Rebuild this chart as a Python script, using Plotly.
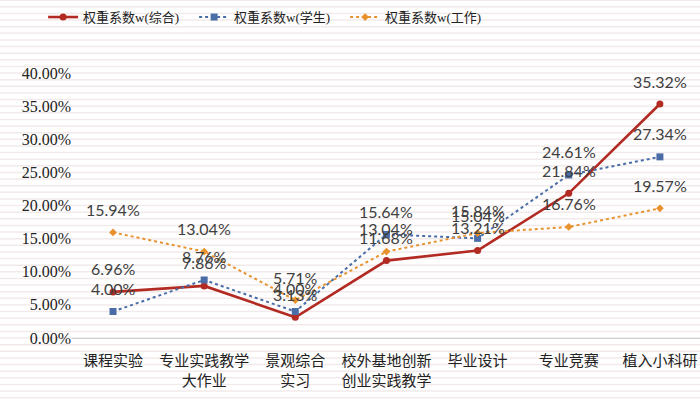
import plotly.graph_objects as go

categories = ["课程实验", "专业实践教学<br>大作业", "景观综合<br>实习", "校外基地创新<br>创业实践教学",
              "毕业设计", "专业竞赛", "植入小科研"]
series_names = ["权重系数w(综合)", "权重系数w(学生)", "权重系数w(工作)"]
w_zonghe = [6.96, 7.86, 3.13, 11.68, 13.21, 21.84, 35.32]
w_xuesheng = [4.00, 8.76, 4.00, 15.64, 15.04, 24.61, 27.34]
w_gongzuo = [15.94, 13.04, 5.71, 13.04, 15.84, 16.76, 19.57]
y_ticks = [0, 5, 10, 15, 20, 25, 30, 35, 40]
y_tick_labels = ["0.00%", "5.00%", "10.00%", "15.00%", "20.00%", "25.00%", "30.00%", "35.00%", "40.00%"]

colors = ["#B22A22", "#4A6DA7", "#E8922E"]
dashes = ["solid", "dot", "dot"]
widths = [2.6, 2, 2]
symbols = ["circle", "square", "diamond"]
msizes = [7, 7, 6]
values = [w_zonghe, w_xuesheng, w_gongzuo]

serif = "Liberation Serif, Times New Roman, serif"
cjk = "Liberation Serif, Noto Sans CJK SC, serif"
fig = go.Figure()
xs = list(range(len(categories)))
for name, vals, c, d, w, s, ms in zip(series_names, values, colors, dashes, widths, symbols, msizes):
    fig.add_trace(go.Scatter(x=xs, y=vals, mode="lines+markers", name=name,
                             line=dict(color=c, width=w, dash=d),
                             marker=dict(symbol=s, size=ms, color=c)))

annotations = []
for vals in values:
    for x, v in zip(xs, vals):
        annotations.append(dict(x=x, y=v, xref="x", yref="y", text=f"{v:.2f}%", showarrow=False,
                                yshift=23, font=dict(family="Lato", size=16, color="#404040")))

shapes = []
for k in range(-10, 53):
    shapes.append(dict(type="line", xref="paper", yref="paper", x0=-0.2, x1=1.05,
                       y0=k / 40, y1=k / 40, line=dict(color="#F2EAEA", width=1.5), layer="below"))

fig.update_layout(
    width=700, height=399,
    margin=dict(l=72, r=0, t=73, b=61, autoexpand=False),
    paper_bgcolor="white", plot_bgcolor="rgba(0,0,0,0)",
    showlegend=True,
    legend=dict(orientation="h", x=-0.046, y=1.211, xanchor="left", yanchor="middle",
                bgcolor="rgba(0,0,0,0)", font=dict(family=cjk, size=13, color="#222222"),
                entrywidth=106, itemwidth=30),
    annotations=annotations,
    shapes=shapes,
    xaxis=dict(tickmode="array", tickvals=xs, ticktext=categories, range=[-0.45, 6.44],
               showgrid=False, zeroline=False, showline=True, linecolor="#D0D0D0", linewidth=1,
               ticks="", automargin=False, ticklabelstandoff=9,
               tickfont=dict(family=cjk, size=15, color="#222222")),
    yaxis=dict(range=[0, 40], tickmode="array", tickvals=y_ticks, ticktext=y_tick_labels,
               showgrid=False, zeroline=False, showline=False, ticks="", automargin=False,
               tickfont=dict(family=serif, size=16, color="#222222")),
)
fig.write_html("out.html", config={"displayModeBar": False},
               post_script="document.body.style.margin='0';")
